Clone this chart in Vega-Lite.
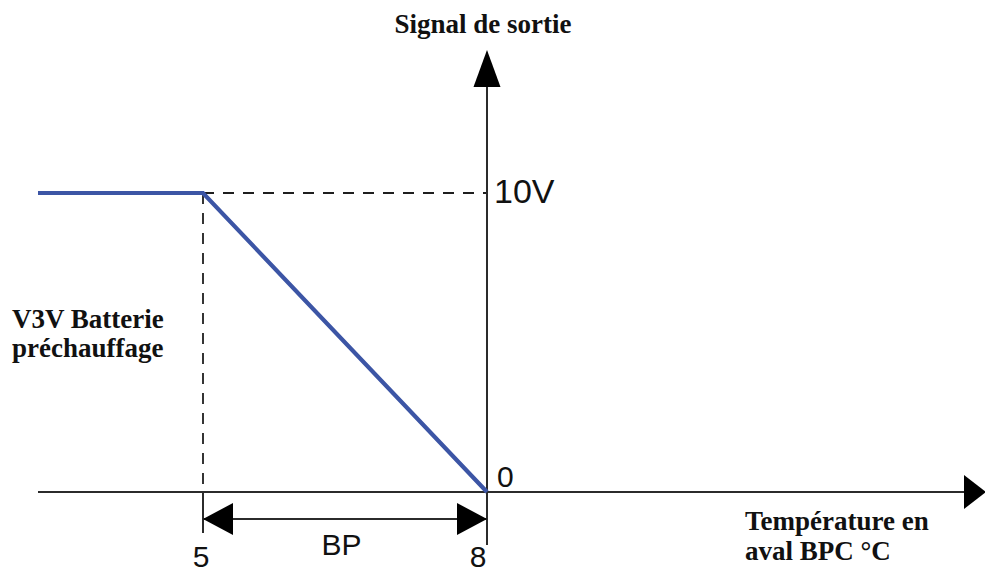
{
  "$schema": "https://vega.github.io/schema/vega-lite/v6.json",
  "width": 985,
  "height": 572,
  "autosize": {"type": "none"},
  "padding": 0,
  "background": "white",
  "config": {"view": {"stroke": null}},
  "datasets": {
    "solid": [
      {"x": 3.257, "x2": 13.16, "y": 0, "y2": 0},
      {"x": 8, "x2": 8, "y": -1.773, "y2": 14.2},
      {"x": 5, "x2": 5, "y": 0, "y2": -1.371},
      {"x": 5, "x2": 8, "y": -0.903, "y2": -0.903}
    ],
    "dashed": [
      {"x": 5, "x2": 8, "y": 10, "y2": 10},
      {"x": 5, "x2": 5, "y": 10, "y2": 0}
    ],
    "curve": [
      {"x": 3.257, "y": 10, "o": 1},
      {"x": 5, "y": 10, "o": 2},
      {"x": 8, "y": 0, "o": 3}
    ],
    "arrowUp": [{"x": 8, "y": 14.164}],
    "arrowRight": [{"x": 13.155, "y": 0}],
    "bpRight": [{"x": 7.8415, "y": -0.903}],
    "bpLeft": [{"x": 5.1585, "y": -0.903}],
    "serifLeft": [
      {"x": 2.9824, "y": 5.485, "t": "V3V Batterie"},
      {"x": 2.9824, "y": 4.515, "t": "préchauffage"},
      {"x": 10.725, "y": -1.271, "t": "Température en"},
      {"x": 10.725, "y": -2.274, "t": "aval BPC °C"}
    ],
    "serifCenter": [
      {"x": 7.958, "y": 15.351, "t": "Signal de sortie"}
    ],
    "bigSans": [
      {"x": 8.074, "y": 9.666, "t": "10V"}
    ],
    "sansLeft": [
      {"x": 8.105, "y": 0.167, "t": "0"}
    ],
    "sansCenter": [
      {"x": 4.979, "y": -2.505, "t": "5"},
      {"x": 7.905, "y": -2.505, "t": "8"},
      {"x": 6.463, "y": -2.107, "t": "BP"}
    ]
  },
  "encoding": {
    "x": {"field": "x", "type": "quantitative", "scale": {"domain": [2.8556, 13.2606], "nice": false, "zero": false}, "axis": null},
    "y": {"field": "y", "type": "quantitative", "scale": {"domain": [-2.6756, 16.455], "nice": false, "zero": false}, "axis": null}
  },
  "layer": [
    {
      "data": {"name": "dashed"},
      "mark": {"type": "rule", "color": "#1e1e1e", "strokeWidth": 1.8, "strokeDash": [11, 9]},
      "encoding": {"x2": {"field": "x2"}, "y2": {"field": "y2"}}
    },
    {
      "data": {"name": "solid"},
      "mark": {"type": "rule", "color": "#2b2b2b", "strokeWidth": 2},
      "encoding": {"x2": {"field": "x2"}, "y2": {"field": "y2"}}
    },
    {
      "data": {"name": "curve"},
      "mark": {"type": "line", "color": "#3c55a5", "strokeWidth": 4.2},
      "encoding": {"order": {"field": "o", "type": "quantitative"}}
    },
    {
      "data": {"name": "arrowUp"},
      "mark": {"type": "point", "shape": "M0,-1L0.73,1L-0.73,1Z", "size": 1369, "filled": true, "color": "#000000", "opacity": 1}
    },
    {
      "data": {"name": "arrowRight"},
      "mark": {"type": "point", "shape": "M0.647,0L-0.647,-1L-0.647,1Z", "size": 1156, "filled": true, "color": "#000000", "opacity": 1}
    },
    {
      "data": {"name": "bpRight"},
      "mark": {"type": "point", "shape": "M0.9375,0L-0.9375,-1L-0.9375,1Z", "size": 1024, "filled": true, "color": "#000000", "opacity": 1}
    },
    {
      "data": {"name": "bpLeft"},
      "mark": {"type": "point", "shape": "M-0.9375,0L0.9375,-1L0.9375,1Z", "size": 1024, "filled": true, "color": "#000000", "opacity": 1}
    },
    {
      "data": {"name": "serifLeft"},
      "mark": {"type": "text", "font": "Liberation Serif", "fontWeight": "bold", "fontSize": 27, "align": "left", "baseline": "alphabetic", "color": "#111111"},
      "encoding": {"text": {"field": "t"}}
    },
    {
      "data": {"name": "serifCenter"},
      "mark": {"type": "text", "font": "Liberation Serif", "fontWeight": "bold", "fontSize": 27, "align": "center", "baseline": "alphabetic", "color": "#111111"},
      "encoding": {"text": {"field": "t"}}
    },
    {
      "data": {"name": "bigSans"},
      "mark": {"type": "text", "font": "Liberation Sans", "fontSize": 34, "align": "left", "baseline": "alphabetic", "color": "#111111"},
      "encoding": {"text": {"field": "t"}}
    },
    {
      "data": {"name": "sansLeft"},
      "mark": {"type": "text", "font": "Liberation Sans", "fontSize": 30, "align": "left", "baseline": "alphabetic", "color": "#111111"},
      "encoding": {"text": {"field": "t"}}
    },
    {
      "data": {"name": "sansCenter"},
      "mark": {"type": "text", "font": "Liberation Sans", "fontSize": 30, "align": "center", "baseline": "alphabetic", "color": "#111111"},
      "encoding": {"text": {"field": "t"}}
    }
  ]
}
